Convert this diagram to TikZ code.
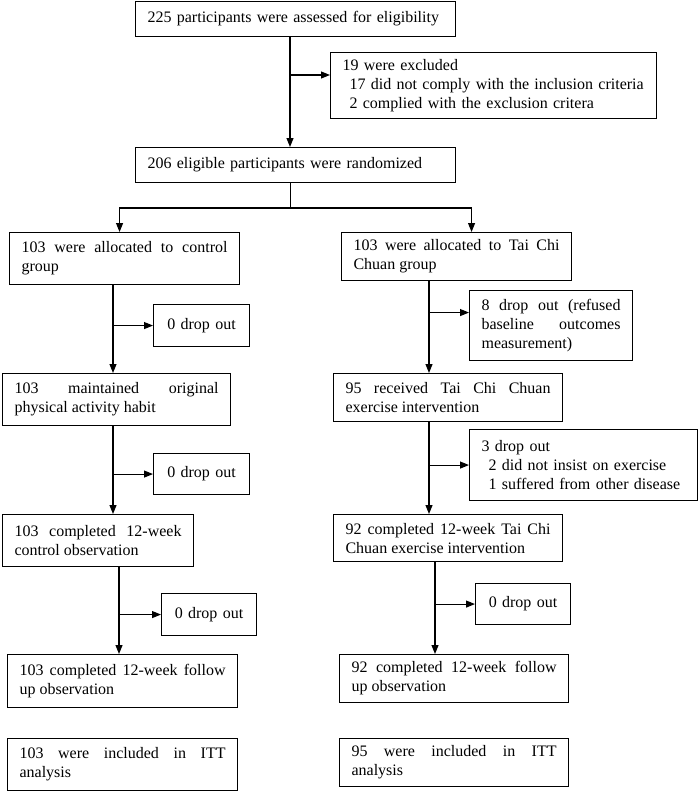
\documentclass[tikz,border=0pt]{standalone}
\usepackage{fontspec}
\setmainfont{Liberation Serif}
\usepackage{tikz}
\usetikzlibrary{arrows.meta,positioning}
\hyphenpenalty=10000
\exhyphenpenalty=10000
\tolerance=10000

\begin{document}
\begin{tikzpicture}[x=1pt, y={(0pt,-1pt)}, box/.style={draw, line width=1.1pt, anchor=north west, inner xsep=12pt, inner ysep=2pt, align=justify, font=\fontsize{16}{19}\selectfont}, drop/.style={box, align=center}, arr/.style={-{Triangle[length=9pt,width=7pt]}, line width=1.1pt}]
\useasboundingbox (0,0) rectangle (699,792);
\node[box, align=left, text width=296pt, minimum height=35pt] (screen) at (135,1) {225 participants were assessed for eligibility};
\node[box, align=left, text width=302pt, minimum height=66pt] (excl) at (330,52) {19 were excluded\\\hspace*{7pt}17 did not comply with the inclusion criteria\\\hspace*{7pt}2 complied with the exclusion critera};
\node[box, align=left, text width=296pt, minimum height=35pt] (rand) at (135,147) {206 eligible participants were randomized};
% control arm
\node[box, text width=206pt, minimum height=52pt] (ctrl) at (9,232) {103 were allocated to control group};
\node[drop, text width=72pt, minimum height=42pt] (cdrop1) at (153,304) {0 drop out};
\node[box, text width=204pt, minimum height=52pt] (cmaint) at (2,373) {103 maintained original physical activity habit};
\node[drop, text width=72pt, minimum height=41pt] (cdrop2) at (153,453) {0 drop out};
\node[box, text width=167pt, minimum height=52pt] (ccomp) at (2,514) {103 completed 12-week control observation};
\node[drop, text width=71pt, minimum height=42pt] (cdrop3) at (161,593) {0 drop out};
\node[box, text width=206pt, minimum height=53pt] (cfollow) at (7,654) {103 completed 12-week follow up observation};
\node[box, text width=206pt, minimum height=52pt] (citt) at (7,738) {103 were included in ITT analysis};
% Tai Chi Chuan arm
\node[box, text width=206pt, minimum height=48pt] (tcc) at (341,232) {103 were allocated to Tai Chi Chuan group};
\node[box, text width=139pt, minimum height=70pt] (tdrop1) at (469,290) {8 drop out (refused baseline outcomes measurement)};
\node[box, text width=205pt, minimum height=48pt] (trecv) at (333,373) {95 received Tai Chi Chuan exercise intervention};
\node[box, align=left, text width=204pt, minimum height=71pt] (tdrop2) at (469,429) {3 drop out\\\hspace*{7pt}2 did not insist on exercise\\\hspace*{7pt}1 suffered from other disease};
\node[box, text width=205pt, minimum height=47pt] (tcomp) at (333,514) {92 completed 12-week Tai Chi Chuan exercise intervention};
\node[drop, text width=71pt, minimum height=41pt] (tdrop3) at (475,583) {0 drop out};
\node[box, text width=205pt, minimum height=48pt] (tfollow) at (339,654) {92 completed 12-week follow up observation};
\node[box, text width=205pt, minimum height=48pt] (titt) at (339,738) {95 were included in ITT\linebreak analysis};
% trunk positions
\coordinate (mx) at (290,75);
\coordinate (split) at (290,208);
\coordinate (cx1) at (113,0);
\coordinate (cx2) at (119,0);
\coordinate (tx1) at (429,0);
\coordinate (tx2) at (435,0);
% arrows
\draw[arr] (screen.south -| mx) -- (rand.north -| mx);
\draw[arr] (mx) -- (mx -| excl.west);
\draw (rand.south -| split) -- (split);
\draw[arr] (split) -| ([xshift=-5pt]ctrl.north);
\draw[arr] (split) -| ([xshift=15pt]tcc.north);
\draw[arr] (ctrl.south -| cx1) -- (cmaint.north -| cx1);
\draw[arr] (cdrop1.west -| cx1) -- (cdrop1.west);
\draw[arr] (cmaint.south -| cx1) -- (ccomp.north -| cx1);
\draw[arr] (cdrop2.west -| cx1) -- (cdrop2.west);
\draw[arr] (ccomp.south -| cx2) -- (cfollow.north -| cx2);
\draw[arr] (cdrop3.west -| cx2) -- (cdrop3.west);
\draw[arr] (tcc.south -| tx1) -- (trecv.north -| tx1);
\draw[arr] ([yshift=13pt]tdrop1.west -| tx1) -- ([yshift=13pt]tdrop1.west);
\draw[arr] (trecv.south -| tx1) -- (tcomp.north -| tx1);
\draw[arr] (tdrop2.west -| tx1) -- (tdrop2.west);
\draw[arr] (tcomp.south -| tx2) -- (tfollow.north -| tx2);
\draw[arr] (tdrop3.west -| tx2) -- (tdrop3.west);
\end{tikzpicture}
\end{document}
